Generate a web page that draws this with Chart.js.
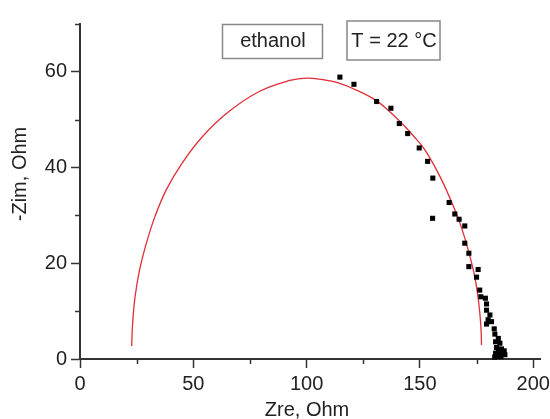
<!DOCTYPE html>
<html lang="en">
<head>
<meta charset="UTF-8">
<title>Impedance spectrum - ethanol</title>
<script src="https://cdn.jsdelivr.net/npm/chart.js@4"></script>
<style>
  html, body { margin: 0; padding: 0; background: #fff; }
</style>
</head>
<body>
<canvas id="nyquist" width="550" height="419"></canvas>
<script>
// measured points (Zre, -Zim)
const measZre = [114.7, 120.9, 130.9, 137.2, 140.9, 144.6, 149.7, 153.4, 155.7, 155.6,
  162.9, 165.4, 167.3, 169.8, 169.8, 171.6, 171.6, 175.7, 175.0, 176.4,
  176.9, 178.9, 179.4, 179.4, 180.9, 180.1, 181.6, 179.4, 182.8, 183.1,
  184.6, 183.4, 185.3, 183.8, 186.0, 184.6, 187.2, 183.4, 185.3, 186.6,
  184.2, 185.8, 187.5, 183.0];
const measZim = [58.9, 57.4, 53.8, 52.4, 49.2, 47.1, 44.1, 41.3, 37.8, 29.4,
  32.7, 30.3, 29.2, 27.8, 24.2, 22.1, 19.3, 18.7, 17.1, 14.4,
  13.0, 12.7, 11.5, 10.2, 9.2, 8.2, 7.8, 7.3, 6.3, 5.2,
  4.3, 3.6, 3.3, 2.4, 2.1, 1.5, 1.7, 1.2, 1.2, 1.0,
  0.6, 0.5, 0.9, 0.4];

// fitted arc
const fitZre = [22.8, 23.2, 24.3, 26.3, 29.3, 33.1, 38.1, 45.0, 54.1, 65.7,
  79.1, 92.6, 100.0, 108.0, 114.0, 122.0, 130.1, 136.0, 141.9, 147.0,
  152.2, 159.0, 165.4, 168.4, 171.3, 174.2, 176.0, 176.9, 177.2];
const fitZim = [2.7, 7.3, 13.0, 18.6, 24.2, 29.8, 35.4, 40.9, 46.5, 51.7,
  55.9, 58.2, 58.7, 58.3, 57.7, 56.2, 54.2, 52.0, 49.3, 46.7,
  43.7, 38.0, 31.2, 27.4, 22.8, 17.2, 11.6, 6.8, 2.9];

const xMajorTicks = [0, 50, 100, 150, 200];
const xMinorTicks = [25, 75, 125, 175];
const yMajorTicks = [0, 20, 40, 60];
const yMinorTicks = [10, 30, 50, 70];

const sampleLabel = 'ethanol';
const tempLabel = 'T = 22 °C';

const axisColor = '#333';
const textColor = '#222';
const fontFamily = '"Liberation Sans", Arial, sans-serif';

const toPoints = (xs, ys) => xs.map((v, i) => ({ x: v, y: ys[i] }));

// minor ticks, axis titles and the two text boxes
const decorations = {
  id: 'decorations',
  afterDraw(chart) {
    const { ctx, chartArea, scales: { x, y } } = chart;
    ctx.save();
    ctx.strokeStyle = axisColor;
    ctx.lineWidth = 1.5;
    xMinorTicks.forEach(v => {
      const px = Math.round(x.getPixelForValue(v)) + 0.5;
      ctx.beginPath();
      ctx.moveTo(px, chartArea.bottom);
      ctx.lineTo(px, chartArea.bottom + 5);
      ctx.stroke();
    });
    yMinorTicks.forEach(v => {
      const py = Math.round(y.getPixelForValue(v)) + 0.5;
      ctx.beginPath();
      ctx.moveTo(chartArea.left, py);
      ctx.lineTo(chartArea.left - 5, py);
      ctx.stroke();
    });

    ctx.font = '20px ' + fontFamily;
    ctx.fillStyle = textColor;
    ctx.textAlign = 'center';
    ctx.textBaseline = 'middle';
    ctx.fillText('Zre, Ohm', 307, 410);

    // boxes
    ctx.strokeStyle = '#888';
    ctx.lineWidth = 1.5;
    ctx.strokeRect(222.5, 24.5, 100, 34);
    ctx.strokeRect(347, 21, 93, 39);
    ctx.fillText(sampleLabel, 273, 41);
    ctx.fillText(tempLabel, 394, 41);

    ctx.translate(20, 174);
    ctx.rotate(-Math.PI / 2);
    ctx.fillText('-Zim, Ohm', 0, 0);
    ctx.restore();
  }
};

new Chart(document.getElementById('nyquist'), {
  type: 'scatter',
  data: {
    datasets: [
      {
        label: 'measured',
        data: toPoints(measZre, measZim),
        pointStyle: 'rect',
        pointRadius: 3.6,
        pointBorderWidth: 0,
        backgroundColor: '#000',
        borderColor: '#000',
        clip: false
      },
      {
        label: 'fit',
        data: toPoints(fitZre, fitZim),
        showLine: true,
        tension: 0.4,
        pointRadius: 0,
        borderColor: 'rgb(225, 45, 55)',
        borderWidth: 1.3,
        fill: false
      }
    ]
  },
  options: {
    responsive: false,
    devicePixelRatio: 1,
    animation: false,
    layout: { padding: { top: 24, right: 10, left: 0, bottom: 0 } },
    plugins: {
      legend: { display: false },
      tooltip: { enabled: false }
    },
    scales: {
      x: {
        type: 'linear',
        min: 0,
        max: 203,
        afterBuildTicks: s => { s.ticks = xMajorTicks.map(v => ({ value: v })); },
        afterFit: s => { s.height = 60; s.paddingLeft = 0; s.paddingRight = 0; },
        ticks: { padding: 4, color: textColor, font: { family: fontFamily, size: 20 } },
        grid: { drawOnChartArea: false, tickLength: 9, tickWidth: 1.5, tickColor: axisColor },
        border: { color: axisColor, width: 2 }
      },
      y: {
        type: 'linear',
        min: 0,
        max: 70,
        afterBuildTicks: s => { s.ticks = yMajorTicks.map(v => ({ value: v })); },
        afterFit: s => { s.width = 80; s.paddingTop = 0; s.paddingBottom = 0; },
        ticks: { padding: 4, color: textColor, font: { family: fontFamily, size: 20 } },
        grid: { drawOnChartArea: false, tickLength: 9, tickWidth: 1.5, tickColor: axisColor },
        border: { color: axisColor, width: 2 }
      }
    }
  },
  plugins: [decorations]
});
</script>
</body>
</html>
